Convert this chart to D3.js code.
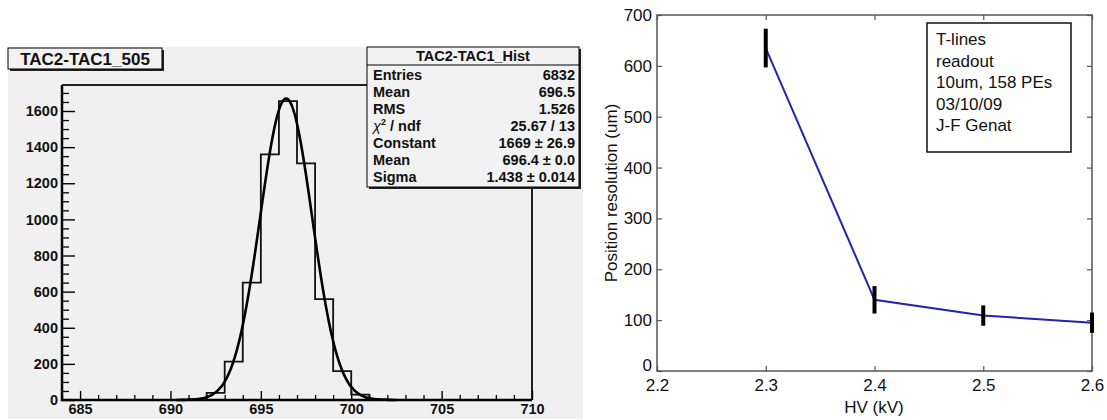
<!DOCTYPE html>
<html>
<head>
<meta charset="utf-8">
<script src="https://cdn.jsdelivr.net/npm/d3@7"></script>
<style>
  html, body { margin: 0; padding: 0; background: #ffffff; }
  svg { display: block; }
  text { font-family: "Liberation Sans", Arial, sans-serif; }
</style>
</head>
<body>
<svg id="chart" width="1107" height="420"></svg>
<script>
// ---------- Left panel data (histogram, bin width 1) ----------
const binLowEdges = [691, 692, 693, 694, 695, 696, 697, 698, 699, 700, 701];
const binCounts   = [3, 40, 212, 650, 1360, 1655, 1310, 559, 160, 30, 4];
const histXTicks  = [685, 690, 695, 700, 705, 710];
const histYTicks  = [0, 200, 400, 600, 800, 1000, 1200, 1400, 1600];
const histTitle   = "TAC2-TAC1_505";
const statsTitle  = "TAC2-TAC1_Hist";
const statsLabels = ["Entries", "Mean", "RMS", "CHI2", "Constant", "Mean", "Sigma"];
const statsValues = ["6832", "696.5", "1.526", "25.67 / 13", "1669 \u00b1 26.9", "696.4 \u00b1 0.0", "1.438 \u00b1 0.014"];
// Gaussian fit parameters as reported in the stats box
const fitConstant = 1669;
const fitMean     = 696.4;
const fitSigma    = 1.438;
const fitRange    = [690.3, 702.5];

// ---------- Right panel data ----------
const hvValues     = [2.3, 2.4, 2.5, 2.6];
const resolution   = [635, 140, 109, 95];
const resolutionEr = [38, 27, 20, 20];
const hvTicks      = [2.2, 2.3, 2.4, 2.5, 2.6];
const resTicks     = [0, 100, 200, 300, 400, 500, 600, 700];
const noteLines    = ["T-lines", "readout", "10um, 158 PEs", "03/10/09", "J-F Genat"];

const svg = d3.select("#chart");
svg.append("rect").attr("width", 1107).attr("height", 420).attr("fill", "#ffffff");

// ================= LEFT PANEL =================
const L = svg.append("g");
L.append("rect").attr("x", 8).attr("y", 47).attr("width", 575).attr("height", 372).attr("fill", "#f0f0f0");

const xL = d3.scaleLinear().domain([684, 710]).range([62, 532]);
const yL = d3.scaleLinear().domain([0, 1744]).range([400, 85]);

// frame top/right
L.append("path")
  .attr("d", `M${xL(684)},${yL(1744)} H${xL(710)} V${yL(0)}`)
  .attr("fill", "none").attr("stroke", "#222").attr("stroke-width", 2);

// minor ticks
const xMinor = d3.range(684, 711, 1).filter(v => v % 5 !== 0);
const yMinor = d3.range(0, 1744, 50).filter(v => v % 200 !== 0);
L.append("g").attr("transform", "translate(0,400)")
  .call(d3.axisBottom(xL).tickValues(xMinor).tickSize(-5).tickFormat(""))
  .call(g => g.select(".domain").remove())
  .call(g => g.selectAll("line").attr("stroke", "#000").attr("stroke-width", 1.3));
L.append("g").attr("transform", "translate(62,0)")
  .call(d3.axisLeft(yL).tickValues(yMinor).tickSize(-7).tickFormat(""))
  .call(g => g.select(".domain").remove())
  .call(g => g.selectAll("line").attr("stroke", "#000").attr("stroke-width", 1.3));

// major ticks + labels
L.append("g").attr("transform", "translate(0,400)")
  .call(d3.axisBottom(xL).tickValues(histXTicks).tickSize(-9).tickPadding(4).tickFormat(d3.format("d")))
  .call(g => g.select(".domain").remove())
  .call(g => g.selectAll("line").attr("stroke", "#000").attr("stroke-width", 1.4))
  .call(g => g.selectAll("text").attr("font-family", "Liberation Sans, Arial, sans-serif")
      .attr("font-size", 14.5).attr("font-weight", "bold").attr("fill", "#111"));
L.append("g").attr("transform", "translate(62,0)")
  .call(d3.axisLeft(yL).tickValues(histYTicks).tickSize(-13).tickPadding(4).tickFormat(d3.format("d")))
  .call(g => g.select(".domain").remove())
  .call(g => g.selectAll("line").attr("stroke", "#000").attr("stroke-width", 1.4))
  .call(g => g.selectAll("text").attr("font-family", "Liberation Sans, Arial, sans-serif")
      .attr("font-size", 14.5).attr("font-weight", "bold").attr("fill", "#111"));

// axis lines left / bottom
L.append("path")
  .attr("d", `M${xL(684)},${yL(1744)} V${yL(0)} H${xL(710)}`)
  .attr("fill", "none").attr("stroke", "#000").attr("stroke-width", 2.5);

// histogram outline
const histPts = [[binLowEdges[0], 0]];
binLowEdges.forEach((lo, i) => {
  histPts.push([lo, binCounts[i]]);
  histPts.push([lo + 1, binCounts[i]]);
});
histPts.push([binLowEdges[binLowEdges.length - 1] + 1, 0]);
L.append("path")
  .attr("d", d3.line().x(d => xL(d[0])).y(d => yL(d[1]))(histPts))
  .attr("fill", "none").attr("stroke", "#111").attr("stroke-width", 1.8);

// fit curve
const fitXs = d3.range(fitRange[0], fitRange[1], 0.05);
L.append("path")
  .attr("d", d3.line().curve(d3.curveBasis)
    .x(x => xL(x))
    .y(x => yL(fitConstant * Math.exp(-0.5 * Math.pow((x - fitMean) / fitSigma, 2))))(fitXs))
  .attr("fill", "none").attr("stroke", "#000").attr("stroke-width", 2.6);

// title box
L.append("rect").attr("x", 10).attr("y", 50).attr("width", 154).attr("height", 21).attr("fill", "#222");
L.append("rect").attr("x", 8).attr("y", 48).attr("width", 154).attr("height", 21)
  .attr("fill", "#f2f2f2").attr("stroke", "#000").attr("stroke-width", 1);
L.append("text").attr("x", 85).attr("y", 64.5).attr("text-anchor", "middle")
  .attr("font-size", 17).attr("font-weight", "bold").attr("fill", "#111").text(histTitle);

// stats box
const sb = { x: 367, y: 47, w: 212, h: 140 };
L.append("rect").attr("x", sb.x + 2).attr("y", sb.y + 2).attr("width", sb.w).attr("height", sb.h).attr("fill", "#222");
L.append("rect").attr("x", sb.x).attr("y", sb.y).attr("width", sb.w).attr("height", sb.h)
  .attr("fill", "#f2f2f2").attr("stroke", "#000").attr("stroke-width", 1);
L.append("line").attr("x1", sb.x).attr("x2", sb.x + sb.w).attr("y1", 65).attr("y2", 65)
  .attr("stroke", "#000").attr("stroke-width", 1);
L.append("text").attr("x", sb.x + sb.w / 2).attr("y", 61).attr("text-anchor", "middle")
  .attr("font-size", 14.5).attr("font-weight", "bold").attr("fill", "#111").text(statsTitle);
statsLabels.forEach((lab, i) => {
  const yb = 80 + 17 * i;
  const t = L.append("text").attr("x", sb.x + 6).attr("y", yb)
    .attr("font-size", 14.5).attr("font-weight", "bold").attr("fill", "#111");
  if (lab === "CHI2") {
    t.append("tspan").attr("font-weight", "normal").attr("font-style", "italic").text("\u03c7");
    t.append("tspan").attr("font-size", 9).attr("dy", -6).text("2");
    t.append("tspan").attr("dy", 6).text(" / ndf");
  } else {
    t.text(lab);
  }
  L.append("text").attr("x", sb.x + sb.w - 4).attr("y", yb).attr("text-anchor", "end")
    .attr("font-size", 14.5).attr("font-weight", "bold").attr("fill", "#111").text(statsValues[i]);
});

// ================= RIGHT PANEL =================
const R = svg.append("g");
const xR = d3.scaleLinear().domain([2.2, 2.6]).range([657, 1092]);
const yR = d3.scaleLinear().domain([0, 700]).range([371, 15]);
const axisColor = "#555";

function styleAxis(g, showText) {
  g.select(".domain").remove();
  g.selectAll("line").attr("stroke", axisColor).attr("stroke-width", 1.2);
  if (showText) {
    g.selectAll("text").attr("font-family", "Liberation Sans, Arial, sans-serif")
      .attr("font-size", 17).attr("fill", "#111");
  }
}
R.append("g").attr("transform", "translate(0,371)")
  .call(d3.axisBottom(xR).tickValues(hvTicks).tickSize(-5).tickPadding(8).tickFormat(d3.format(".1f")))
  .call(g => styleAxis(g, true));
R.append("g").attr("transform", "translate(0,15)")
  .call(d3.axisTop(xR).tickValues(hvTicks).tickSize(-5).tickFormat(""))
  .call(g => styleAxis(g, false));
R.append("g").attr("transform", "translate(657,0)")
  .call(d3.axisLeft(yR).tickValues(resTicks).tickSize(-5).tickPadding(5).tickFormat(d3.format("d")))
  .call(g => styleAxis(g, true))
  .call(g => g.selectAll("text").filter(d => d === 0).attr("dy", "-0.05em"));
R.append("g").attr("transform", "translate(1092,0)")
  .call(d3.axisRight(yR).tickValues(resTicks).tickSize(-5).tickFormat(""))
  .call(g => styleAxis(g, false));
R.append("rect").attr("x", 657).attr("y", 15).attr("width", 1092 - 657).attr("height", 371 - 15)
  .attr("fill", "none").attr("stroke", axisColor).attr("stroke-width", 1.5);

// line
R.append("path")
  .attr("d", d3.line().x((d, i) => xR(hvValues[i])).y(d => yR(d))(resolution))
  .attr("fill", "none").attr("stroke", "#2323b0").attr("stroke-width", 2);

// error bars
R.selectAll(".err").data(resolution).enter().append("line")
  .attr("x1", (d, i) => xR(hvValues[i])).attr("x2", (d, i) => xR(hvValues[i]))
  .attr("y1", (d, i) => yR(d + resolutionEr[i])).attr("y2", (d, i) => yR(d - resolutionEr[i]))
  .attr("stroke", "#000").attr("stroke-width", 4);

// annotation box
R.append("rect").attr("x", 927).attr("y", 23).attr("width", 144).attr("height", 129)
  .attr("fill", "#fff").attr("stroke", "#111").attr("stroke-width", 1.5);
noteLines.forEach((s, i) => {
  R.append("text").attr("x", 936).attr("y", 45 + 21.5 * i)
    .attr("font-size", 17).attr("fill", "#111").text(s);
});

// axis labels
R.append("text").attr("transform", "translate(617,193) rotate(-90)").attr("text-anchor", "middle")
  .attr("font-size", 17).attr("fill", "#111").text("Position resolution (um)");
R.append("text").attr("x", 874).attr("y", 413).attr("text-anchor", "middle")
  .attr("font-size", 17).attr("fill", "#111").text("HV (kV)");
</script>
</body>
</html>
